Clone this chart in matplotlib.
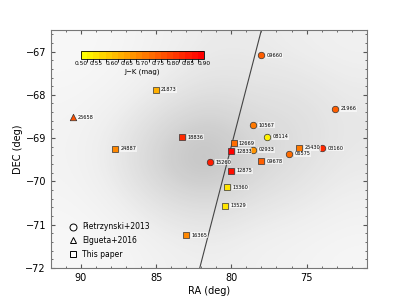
import numpy as np
import matplotlib
matplotlib.use("Agg")
from matplotlib import pyplot as plt
from matplotlib.lines import Line2D
from matplotlib.colors import BoundaryNorm

# stars: name, RA, DEC, J-K, marker (o = Pietrzynski+2013, ^ = Elgueta+2016, s = this paper)
names = ["09660", "21873", "25658", "21966", "18836", "24887", "10567", "08114",
         "12669", "12833", "02933", "25430", "03160", "06575", "09678", "15260",
         "12875", "13360", "13529", "16365"]
ra = [78.0, 85.03, 90.56, 73.09, 83.27, 87.73, 78.53, 77.6,
      79.85, 80.03, 78.56, 75.49, 73.98, 76.16, 78.0, 81.43,
      80.0, 80.27, 80.4, 83.0]
dec = [-67.09, -67.88, -68.52, -68.32, -68.98, -69.25, -68.70, -68.97,
       -69.12, -69.30, -69.27, -69.22, -69.24, -69.36, -69.53, -69.56,
       -69.76, -70.14, -70.56, -71.24]
jk = [0.75, 0.62, 0.76, 0.74, 0.83, 0.68, 0.70, 0.52,
      0.73, 0.88, 0.66, 0.70, 0.84, 0.72, 0.74, 0.85,
      0.87, 0.55, 0.55, 0.68]
marks = ["o", "s", "^", "o", "s", "s", "o", "o",
         "s", "s", "o", "s", "o", "o", "s", "o",
         "s", "s", "s", "s"]

# rough star density of the LMC field (rows: DEC -66.5 -> -72, cols: RA 92 -> 71)
density = np.array([
    [0.15, 0.20, 0.30, 0.40, 0.40, 0.35, 0.30],
    [0.20, 0.25, 0.40, 0.55, 0.50, 0.50, 0.40],
    [0.25, 0.40, 0.70, 0.85, 0.65, 0.60, 0.45],
    [0.25, 0.45, 0.80, 0.95, 0.70, 0.55, 0.40],
    [0.20, 0.30, 0.50, 0.60, 0.45, 0.40, 0.30],
    [0.15, 0.20, 0.30, 0.35, 0.30, 0.25, 0.20],
])

# line of nodes
line_ra = [78.0, 82.1]
line_dec = [-66.5, -72.0]

fig = plt.figure(figsize=(4.07, 2.99), dpi=100)
ax = fig.add_axes([0.125, 0.104, 0.776, 0.796])

ax.imshow(density, extent=[92, 71, -72, -66.5], cmap="Greys", vmin=0, vmax=2.6,
          interpolation="bicubic", aspect="auto", zorder=0)
ax.plot(line_ra, line_dec, color="#444444", lw=0.8, zorder=1)

cmap = plt.get_cmap("autumn_r")
norm = BoundaryNorm(np.linspace(0.5, 0.9, 21), cmap.N)
sc = None
for n, x, y, c, m in zip(names, ra, dec, jk, marks):
    sc = ax.scatter([x], [y], c=[c], cmap=cmap, norm=norm, marker=m, s=22,
                    edgecolors="#333333", linewidths=0.5, zorder=3)
    ax.text(x - 0.35, y, n, fontsize=3.6, va="center", ha="left", zorder=4,
            bbox=dict(facecolor="white", edgecolor="none", alpha=0.6, pad=0.3))

ax.set_xlim(92, 71)
ax.set_ylim(-72, -66.5)
ax.set_xticks([90, 85, 80, 75])
ax.set_yticks([-72, -71, -70, -69, -68, -67])
ax.set_xticks(np.arange(72, 92, 1), minor=True)
ax.set_yticks(np.arange(-72, -66.4, 0.2), minor=True)
ax.tick_params(which="both", direction="in", top=True, right=True, labelsize=7, color="#555555")
ax.tick_params(which="major", length=3)
ax.tick_params(which="minor", length=1.5)
for s in ax.spines.values():
    s.set_color("#777777")
ax.set_xlabel("RA (deg)", fontsize=7, labelpad=2)
ax.set_ylabel("DEC (deg)", fontsize=7, labelpad=2)

handles = [Line2D([], [], marker="o", ls="none", mfc="white", mec="black", ms=5, mew=0.7),
           Line2D([], [], marker="^", ls="none", mfc="white", mec="black", ms=5, mew=0.7),
           Line2D([], [], marker="s", ls="none", mfc="white", mec="black", ms=5, mew=0.7)]
ax.legend(handles, ["Pietrzynski+2013", "Elgueta+2016", "This paper"], loc="lower left",
          frameon=False, fontsize=5.5, handletextpad=0.2, labelspacing=0.6,
          bbox_to_anchor=(0.025, 0.01))

cax = fig.add_axes([0.199, 0.802, 0.302, 0.028])
cb = fig.colorbar(sc, cax=cax, orientation="horizontal")
cb.set_ticks(np.arange(0.5, 0.91, 0.05))
cb.ax.tick_params(labelsize=4.2, length=0, pad=1.5)
cb.set_label("J\u2212K (mag)", fontsize=5, labelpad=1)
cb.outline.set_linewidth(0.6)

fig.savefig("out.png", dpi=100)
